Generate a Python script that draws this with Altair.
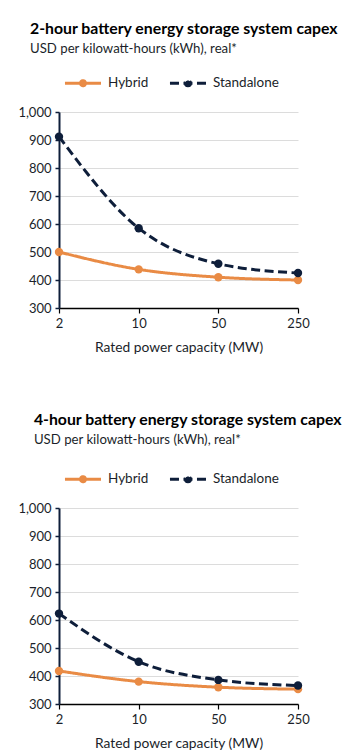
import altair as alt
import pandas as pd

capacity = ["2", "10", "50", "250"]
series_names = ["Hybrid", "Standalone"]
hybrid_2h = [500, 438, 410, 400]
standalone_2h = [912, 585, 458, 425]
hybrid_4h = [418, 380, 360, 353]
standalone_4h = [623, 451, 386, 366]

titles = ["2-hour battery energy storage system capex", "4-hour battery energy storage system capex"]
subtitle = "USD per kilowatt-hours (kWh), real*"
y_ticks = [300, 400, 500, 600, 700, 800, 900, 1000]

ORANGE = "#E98B45"
NAVY = "#0E1E3A"
TEXT = "#1B1F2A"
FONT = "Lato"

legend_path = ("M-1,0L1,0 "
               "M0.14,0A0.14,0.14 0 1,1 -0.14,0A0.14,0.14 0 1,1 0.14,0 "
               "M0.07,0A0.07,0.07 0 1,1 -0.07,0A0.07,0.07 0 1,1 0.07,0")


def frame(h, s):
    rows = []
    for c, v in zip(capacity, h):
        rows.append({"cap": c, "series": "Hybrid", "value": v})
    for c, v in zip(capacity, s):
        rows.append({"cap": c, "series": "Standalone", "value": v})
    return pd.DataFrame(rows)


def panel(df, title, title_offset, y_extent):
    x = alt.X("cap:O", sort=capacity, title="Rated power capacity (MW)",
              scale=alt.Scale(type="point", padding=0),
              axis=alt.Axis(labelAngle=0, domainColor="#000000", domainWidth=1.5,
                            tickColor="#000000", tickSize=5, tickWidth=1.2,
                            labelPadding=4, titlePadding=10, grid=False))
    y = alt.Y("value:Q", title=None,
              scale=alt.Scale(domain=[300, 1000], nice=False, zero=False),
              axis=alt.Axis(values=y_ticks, format=",d", domainColor=NAVY, domainWidth=2,
                            tickColor=NAVY, tickSize=4, tickWidth=1.5, labelPadding=4,
                            gridColor="#DCDCDC", gridWidth=1,
                            minExtent=y_extent, maxExtent=y_extent))
    color = alt.Color("series:N", scale=alt.Scale(domain=series_names, range=[ORANGE, NAVY]),
                      legend=alt.Legend(orient="top", title=None, symbolType=legend_path,
                                        symbolSize=1300, symbolStrokeWidth=3,
                                        labelFontSize=13.5, labelColor=TEXT, labelFont=FONT,
                                        columnPadding=14, offset=16, padding=4,
                                        labelOffset=5))
    dash = alt.StrokeDash("series:N",
                          scale=alt.Scale(domain=series_names, range=[[1, 0], [9, 4.5]]),
                          legend=None)
    base = alt.Chart(df)
    line = base.mark_line(strokeWidth=3, interpolate="monotone").encode(
        x=x, y=y, color=color, strokeDash=dash)
    pts = base.mark_circle(size=70, opacity=1).encode(
        x=x, y=y, color=alt.Color("series:N", scale=alt.Scale(domain=series_names, range=[ORANGE, NAVY]), legend=None))
    return alt.layer(line, pts).properties(
        width=239, height=196,
        title=alt.TitleParams(text=title, subtitle=subtitle, anchor="start", frame="bounds",
                              fontSize=15.8, subtitleFontSize=13.2, font=FONT, subtitleFont=FONT,
                              fontWeight="bold", color="#000000", subtitleColor=TEXT,
                              dx=16, offset=title_offset, subtitlePadding=5))


c1 = panel(frame(hybrid_2h, standalone_2h), titles[0], 3, 45)
c2 = panel(frame(hybrid_4h, standalone_4h), titles[1], 8, 40)

chart = alt.vconcat(c1, c2, spacing=58, padding={"left": 6, "top": 13, "right": 0, "bottom": 0}).resolve_legend(
    color="independent", strokeDash="independent"
).resolve_scale(color="independent", strokeDash="independent").configure_view(
    stroke=None
).configure_axis(
    labelFont=FONT, titleFont=FONT, labelFontSize=13, titleFontSize=13.8,
    labelColor=TEXT, titleColor=TEXT, titleFontWeight="normal"
)

chart.save("out.html", embed_options={"renderer": "svg", "actions": False})
